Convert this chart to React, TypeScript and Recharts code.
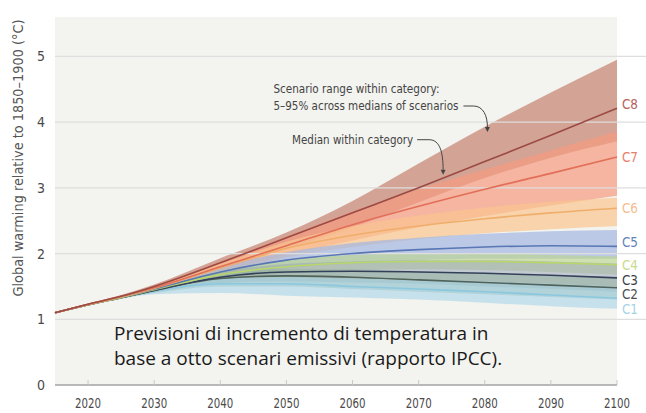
import {
  ComposedChart,
  Area,
  Line,
  XAxis,
  YAxis,
  CartesianGrid,
  ReferenceLine,
  ReferenceDot,
} from "recharts";

const years = [2015, 2020, 2025, 2030, 2040, 2050, 2060, 2070, 2080, 2090, 2100];

// medians and 5–95% ranges per category, °C above 1850–1900
const c8Med = [1.1, 1.23, 1.35, 1.5, 1.86, 2.24, 2.62, 3.0, 3.4, 3.8, 4.21];
const c8High = [1.11, 1.24, 1.37, 1.53, 1.93, 2.32, 2.8, 3.37, 3.93, 4.45, 4.95];
const c8Low = [1.09, 1.21, 1.33, 1.46, 1.76, 2.07, 2.4, 2.78, 3.15, 3.46, 3.71];

const c7Med = [1.1, 1.23, 1.35, 1.48, 1.8, 2.12, 2.44, 2.72, 2.98, 3.22, 3.47];
const c7High = [1.11, 1.24, 1.36, 1.51, 1.88, 2.26, 2.64, 2.98, 3.28, 3.57, 3.86];
const c7Low = [1.09, 1.21, 1.33, 1.44, 1.7, 1.98, 2.2, 2.4, 2.57, 2.73, 2.88];

const c6Med = [1.1, 1.22, 1.34, 1.47, 1.78, 2.08, 2.28, 2.42, 2.53, 2.62, 2.69];
const c6High = [1.11, 1.23, 1.35, 1.49, 1.84, 2.18, 2.42, 2.58, 2.7, 2.79, 2.85];
const c6Low = [1.09, 1.21, 1.32, 1.43, 1.68, 1.94, 2.1, 2.22, 2.31, 2.37, 2.42];

const c5Med = [1.1, 1.22, 1.34, 1.46, 1.72, 1.9, 2.0, 2.06, 2.1, 2.12, 2.11];
const c5High = [1.11, 1.23, 1.35, 1.48, 1.8, 2.02, 2.16, 2.24, 2.3, 2.34, 2.36];
const c5Low = [1.09, 1.21, 1.32, 1.42, 1.62, 1.78, 1.86, 1.9, 1.92, 1.92, 1.92];

const c4Med = [1.1, 1.22, 1.33, 1.45, 1.68, 1.8, 1.86, 1.88, 1.88, 1.86, 1.83];
const c4High = [1.11, 1.23, 1.35, 1.47, 1.74, 1.9, 1.98, 2.0, 2.0, 1.98, 1.96];
const c4Low = [1.09, 1.21, 1.32, 1.42, 1.6, 1.7, 1.75, 1.76, 1.75, 1.72, 1.68];

const c3Med = [1.1, 1.22, 1.33, 1.44, 1.64, 1.72, 1.73, 1.72, 1.7, 1.67, 1.63];
const c3High = [1.11, 1.23, 1.35, 1.47, 1.72, 1.84, 1.88, 1.9, 1.9, 1.88, 1.85];
const c3Low = [1.09, 1.21, 1.32, 1.41, 1.55, 1.58, 1.56, 1.54, 1.5, 1.46, 1.42];

const c2Med = [1.1, 1.22, 1.33, 1.44, 1.62, 1.66, 1.64, 1.6, 1.56, 1.52, 1.48];
const c2High = [1.11, 1.23, 1.34, 1.46, 1.7, 1.76, 1.76, 1.73, 1.7, 1.66, 1.62];
const c2Low = [1.09, 1.21, 1.32, 1.4, 1.5, 1.5, 1.46, 1.42, 1.38, 1.34, 1.3];

const c1Med = [1.1, 1.22, 1.33, 1.43, 1.54, 1.54, 1.5, 1.46, 1.42, 1.37, 1.32];
const c1High = [1.11, 1.23, 1.34, 1.46, 1.62, 1.64, 1.62, 1.6, 1.58, 1.54, 1.5];
const c1Low = [1.09, 1.21, 1.31, 1.38, 1.4, 1.36, 1.33, 1.3, 1.25, 1.2, 1.16];

const xTicks = [2020, 2030, 2040, 2050, 2060, 2070, 2080, 2090, 2100];
const yTicks = [0, 1, 2, 3, 4, 5];

// where the category names sit on the right edge (value units)
const labelNames = ["C8", "C7", "C6", "C5", "C4", "C3", "C2", "C1"];
const labelValues = [4.27, 3.47, 2.7, 2.18, 1.82, 1.6, 1.38, 1.15];

const cats = [
  { key: "c8", med: c8Med, lo: c8Low, hi: c8High, band: "#c4826f", op: 0.7, line: "#9c4a44", text: "#b5605a" },
  { key: "c7", med: c7Med, lo: c7Low, hi: c7High, band: "#f59a80", op: 0.7, line: "#e26f58", text: "#e77e6a" },
  { key: "c6", med: c6Med, lo: c6Low, hi: c6High, band: "#f9c48e", op: 0.7, line: "#f0ae6c", text: "#f3bd90" },
  { key: "c5", med: c5Med, lo: c5Low, hi: c5High, band: "#a2b6e2", op: 0.7, line: "#5877b4", text: "#6483b8" },
  { key: "c4", med: c4Med, lo: c4Low, hi: c4High, band: "#bcd68f", op: 0.65, line: "#b8d66a", text: "#c8db8f" },
  { key: "c3", med: c3Med, lo: c3Low, hi: c3High, band: "#9ba5b8", op: 0.55, line: "#34405a", text: "#3a3f4a" },
  { key: "c2", med: c2Med, lo: c2Low, hi: c2High, band: "#93b09f", op: 0.55, line: "#50625a", text: "#4a4f55" },
  { key: "c1", med: c1Med, lo: c1Low, hi: c1High, band: "#a9d6e8", op: 0.6, line: "#8bc8df", text: "#a6d4e6" },
];

const data = years.map((year, i) => {
  const row: Record<string, number | number[]> = { year };
  cats.forEach((c) => {
    row[c.key + "r"] = [c.lo[i], c.hi[i]];
    row[c.key + "m"] = c.med[i];
  });
  return row;
});

const narrow = "'DejaVu Sans Condensed', 'Liberation Sans', sans-serif";

const XTick = (props: any) => {
  const { x, y, payload } = props;
  return (
    <g>
      <line x1={x} x2={x} y1={y - 5} y2={y} stroke="#c8c8c8" />
      <text
        x={x}
        y={y + 23}
        textAnchor="middle"
        fontSize={14}
        fill="#4a4a4a"
        fontFamily={narrow}
        textLength={26}
        lengthAdjust="spacingAndGlyphs"
      >
        {payload.value}
      </text>
    </g>
  );
};

const YLabel = (props: any) => {
  const { viewBox } = props;
  const x = viewBox.x + 18;
  const y = viewBox.y + 141;
  return (
    <text
      x={x}
      y={y}
      transform={`rotate(-90 ${x} ${y})`}
      textAnchor="middle"
      dominantBaseline="central"
      fontSize={13.5}
      fill="#555"
      fontFamily={narrow}
      textLength={277}
      lengthAdjust="spacingAndGlyphs"
    >
      Global warming relative to 1850–1900 (°C)
    </text>
  );
};

const RangeNote = (props: any) => {
  const { cx, cy } = props;
  return (
    <g fontFamily={narrow} fontSize={12.5} fill="#444">
      <text x={cx - 214} y={cy - 39} textLength={166} lengthAdjust="spacingAndGlyphs">
        Scenario range within category:
      </text>
      <text x={cx - 214} y={cy - 22} textLength={185} lengthAdjust="spacingAndGlyphs">
        5–95% across medians of scenarios
      </text>
      <path
        d={`M ${cx - 24} ${cy - 26} L ${cx - 14} ${cy - 26} C ${cx - 4} ${cy - 26} ${cx} ${cy - 16} ${cx} ${cy - 5}`}
        stroke="#444"
        strokeWidth={1}
        fill="none"
      />
      <path d={`M ${cx - 2.5} ${cy - 5} L ${cx + 2.5} ${cy - 5} L ${cx} ${cy} Z`} fill="#444" />
    </g>
  );
};

const MedianNote = (props: any) => {
  const { cx, cy } = props;
  return (
    <g fontFamily={narrow} fontSize={12.5} fill="#444">
      <text x={cx - 151} y={cy - 31} textLength={121} lengthAdjust="spacingAndGlyphs">
        Median within category
      </text>
      <path
        d={`M ${cx - 26} ${cy - 35} L ${cx - 14} ${cy - 35} C ${cx - 3} ${cy - 35} ${cx} ${cy - 22} ${cx} ${cy - 5}`}
        stroke="#444"
        strokeWidth={1}
        fill="none"
      />
      <path d={`M ${cx - 2.5} ${cy - 5} L ${cx + 2.5} ${cy - 5} L ${cx} ${cy} Z`} fill="#444" />
    </g>
  );
};

export default function App() {
  return (
    <div style={{ position: "absolute", left: 0, top: 0, width: 646, height: 413, background: "#fff" }}>
      <ComposedChart width={646} height={413} data={data} margin={{ top: 17, right: 29, bottom: 0, left: 0 }}>
        <CartesianGrid horizontal={false} vertical={false} fill="#f3f3ef" />
        {yTicks.slice(1).map((v) => (
          <ReferenceLine
            key={v}
            segment={[
              { x: 2015, y: v },
              { x: 2104.4, y: v },
            ]}
            stroke="#dedede"
            strokeWidth={1.2}
            ifOverflow="visible"
          />
        ))}
        <XAxis
          type="number"
          dataKey="year"
          domain={[2015, 2100]}
          ticks={xTicks}
          tick={<XTick />}
          tickLine={false}
          tickSize={0}
          tickMargin={0}
          height={28}
          axisLine={{ stroke: "#a3a3a3", strokeWidth: 1.3 }}
        />
        <YAxis
          type="number"
          domain={[0, 5.6]}
          ticks={yTicks}
          width={55}
          axisLine={false}
          tickLine={false}
          tickSize={0}
          tickMargin={10}
          tick={{ fontSize: 14, fill: "#4a4a4a", fontFamily: narrow }}
          label={<YLabel />}
        />
        {cats.map((c) => (
          <Area
            key={c.key + "r"}
            type="monotone"
            dataKey={c.key + "r"}
            stroke="none"
            fill={c.band}
            fillOpacity={c.op}
            dot={false}
            activeDot={false}
            isAnimationActive={false}
          />
        ))}
        {[...cats].reverse().map((c) => (
          <Line
            key={c.key + "m"}
            type="monotone"
            dataKey={c.key + "m"}
            stroke={c.line}
            strokeWidth={1.6}
            dot={false}
            activeDot={false}
            isAnimationActive={false}
          />
        ))}
        {labelNames.map((name, i) => (
          <ReferenceDot
            key={name}
            x={2100}
            y={labelValues[i]}
            r={0}
            ifOverflow="visible"
            shape={(p: any) => (
              <text
                x={p.cx + 5}
                y={p.cy}
                dominantBaseline="central"
                fontSize={13.5}
                fill={cats[i].text}
                fontFamily={narrow}
                textLength={16}
                lengthAdjust="spacingAndGlyphs"
              >
                {name}
              </text>
            )}
          />
        ))}
        <ReferenceDot x={2080.4} y={3.85} r={0} ifOverflow="visible" shape={<RangeNote />} />
        <ReferenceDot x={2073.7} y={3.2} r={0} ifOverflow="visible" shape={<MedianNote />} />
      </ComposedChart>
      <div
        style={{
          position: "absolute",
          left: 114,
          top: 321,
          fontFamily: "'Open Sans', sans-serif",
          fontSize: 19,
          lineHeight: "25px",
          color: "#1a1a1a",
          whiteSpace: "nowrap",
        }}
      >
        Previsioni di incremento di temperatura in
        <br />
        base a otto scenari emissivi (rapporto IPCC).
      </div>
    </div>
  );
}
